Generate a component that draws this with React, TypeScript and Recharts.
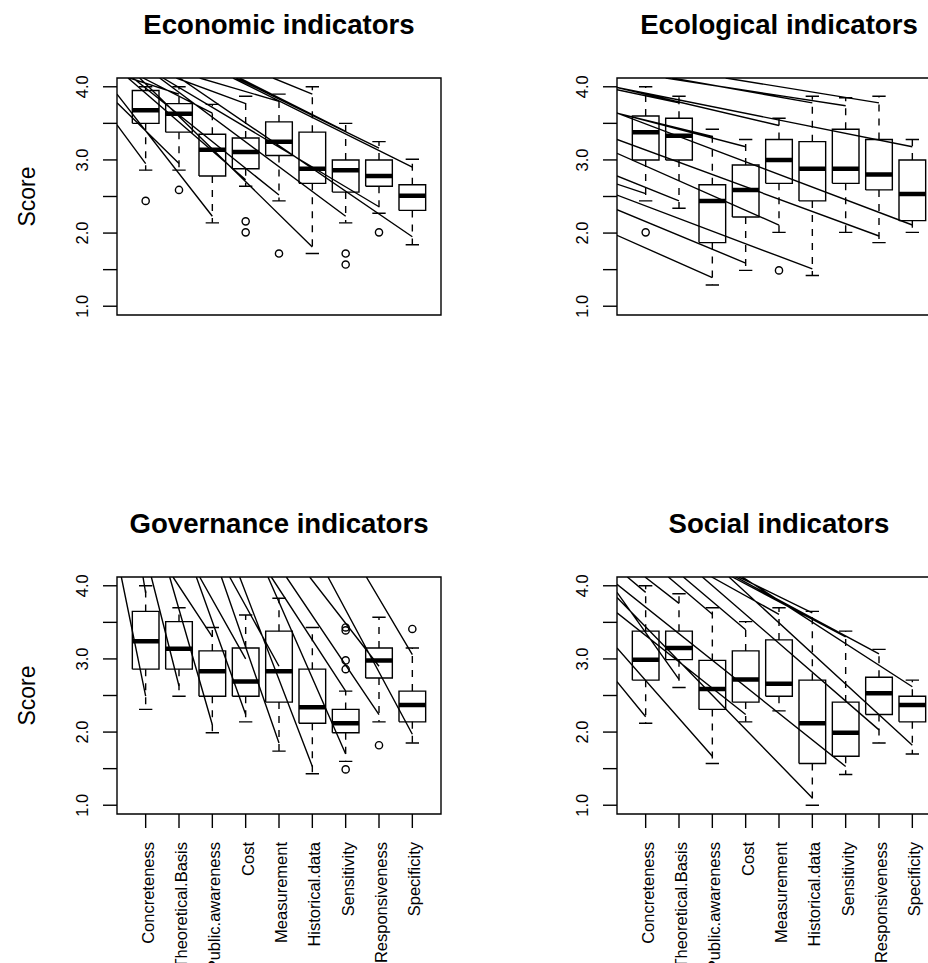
import React from "react";
import { ComposedChart, Line, Scatter, XAxis, YAxis, ReferenceArea } from "recharts";

const categories = [
  "Concreteness",
  "Theoretical.Basis",
  "Public.awareness",
  "Cost",
  "Measurement",
  "Historical.data",
  "Sensitivity",
  "Responsiveness",
  "Specificity",
];
const yTicks = [1, 1.5, 2, 2.5, 3, 3.5, 4];

// Economic
const ecoLow = [2.86, 2.86, 2.14, 2.64, 2.44, 1.72, 2.14, 2.27, 1.84];
const ecoQ1 = [3.5, 3.38, 2.78, 2.88, 3.06, 2.68, 2.56, 2.64, 2.31];
const ecoMed = [3.68, 3.63, 3.14, 3.11, 3.25, 2.88, 2.86, 2.78, 2.51];
const ecoQ3 = [3.95, 3.77, 3.35, 3.3, 3.52, 3.38, 3.0, 3.0, 2.66];
const ecoHigh = [4.0, 4.0, 3.76, 3.87, 3.9, 4.0, 3.5, 3.25, 3.01];
const ecoOut = [[1, 2.44], [2, 2.59], [4, 2.16], [4, 2.01], [5, 1.72], [7, 1.72], [7, 1.57], [8, 2.01]];
const ecoSegs = [
  [0.14, 3.48, 1, 2.95], [0.14, 3.78, 2, 2.95], [0.14, 3.9, 3, 2.23], [0.47, 4.12, 4, 2.73],
  [0.62, 4.12, 5, 2.52], [0.82, 4.12, 6, 1.81], [1.42, 4.12, 7, 2.23], [1.52, 4.12, 8, 2.36],
  [2.02, 4.12, 9, 1.95], [3.62, 4.12, 9, 2.9], [3.82, 4.12, 7, 3.39], [4.82, 4.12, 6, 3.9],
  [2.62, 4.12, 5, 3.8], [1.92, 4.12, 4, 3.77], [0.92, 4.12, 3, 3.64], [0.52, 4.12, 2, 3.9],
  [3.72, 4.12, 8, 3.16],
];

// Ecological
const ecolLow = [2.44, 2.34, 1.29, 1.49, 2.01, 1.42, 2.01, 1.87, 2.01];
const ecolQ1 = [3.0, 3.0, 1.87, 2.22, 2.68, 2.44, 2.68, 2.59, 2.17];
const ecolMed = [3.38, 3.33, 2.44, 2.59, 3.0, 2.88, 2.88, 2.8, 2.535];
const ecolQ3 = [3.6, 3.57, 2.66, 2.93, 3.28, 3.25, 3.42, 3.28, 3.0];
const ecolHigh = [4.0, 3.87, 3.42, 3.28, 3.57, 3.87, 3.85, 3.87, 3.28];
const ecolOut = [[1, 2.01], [5, 1.49]];
const ecolSegs = [
  [0.14, 1.97, 3, 1.39], [0.14, 2.32, 4, 1.59], [0.14, 2.52, 6, 1.51], [0.14, 2.78, 2, 2.44],
  [0.14, 2.67, 1, 2.54], [0.14, 3.09, 5, 2.11], [0.14, 3.28, 8, 1.96], [0.14, 3.64, 9, 2.11],
  [0.14, 3.64, 4, 3.18], [0.14, 3.64, 3, 3.32], [0.14, 3.99, 5, 3.47], [0.14, 3.99, 9, 3.18],
  [0.14, 3.99, 1, 3.9], [0.14, 3.96, 2, 3.78], [1.8, 4.12, 6, 3.78], [1.6, 4.12, 7, 3.74],
  [3.4, 4.12, 8, 3.78],
];

// Governance
const govLow = [2.31, 2.49, 1.99, 2.14, 1.74, 1.43, 1.6, 2.14, 1.85];
const govQ1 = [2.86, 2.86, 2.49, 2.49, 2.41, 2.12, 1.99, 2.74, 2.14];
const govMed = [3.24, 3.14, 2.83, 2.69, 2.83, 2.34, 2.12, 2.98, 2.37];
const govQ3 = [3.65, 3.51, 3.11, 3.15, 3.38, 2.86, 2.31, 3.15, 2.56];
const govHigh = [4.0, 3.7, 3.43, 3.6, 3.83, 3.43, 2.56, 3.57, 3.15];
const govOut = [[7, 3.43], [7, 3.39], [7, 2.98], [7, 2.86], [7, 1.49], [8, 1.82], [9, 3.41]];
const govSegs = [
  [0.27, 4.12, 1, 2.49], [1.17, 4.12, 2, 2.63], [1.72, 4.12, 3, 2.1], [2.52, 4.12, 4, 2.24],
  [3.27, 4.12, 5, 1.85], [3.82, 4.12, 6, 1.53], [4.67, 4.12, 7, 1.7], [4.77, 4.12, 7, 2.56],
  [5.22, 4.12, 8, 2.24], [6.47, 4.12, 9, 1.97], [7.62, 4.12, 9, 3.06], [0.92, 4.12, 1, 3.9],
  [1.82, 4.12, 3, 3.3], [2.62, 4.12, 4, 3.0], [3.52, 4.12, 5, 2.9], [5.92, 4.12, 8, 2.9],
];

// Social
const socLow = [2.12, 2.61, 1.57, 2.14, 2.29, 1.0, 1.42, 1.85, 1.7];
const socQ1 = [2.71, 2.99, 2.31, 2.41, 2.49, 1.57, 1.67, 2.24, 2.14];
const socMed = [2.99, 3.15, 2.59, 2.72, 2.66, 2.12, 1.99, 2.53, 2.37];
const socQ3 = [3.38, 3.38, 2.98, 3.11, 3.26, 2.71, 2.41, 2.75, 2.49];
const socHigh = [4.0, 3.89, 3.7, 3.51, 3.7, 3.65, 3.38, 3.13, 2.71];
const socOut: number[][] = [];
const socSegs = [
  [0.14, 2.69, 1, 2.21], [0.45, 4.12, 1, 3.91], [0.14, 3.15, 3, 1.67], [0.14, 3.63, 4, 2.24],
  [0.14, 3.84, 6, 1.1], [0.14, 4.02, 7, 1.53], [0.14, 3.91, 2, 2.72], [0.98, 4.12, 2, 3.76],
  [1.68, 4.12, 3, 3.61], [2.13, 4.12, 4, 3.4], [2.98, 4.12, 5, 3.61], [3.8, 4.12, 6, 3.63],
  [3.6, 4.12, 7, 3.3], [3.7, 4.12, 8, 3.07], [3.9, 4.12, 9, 2.62], [2.7, 4.12, 8, 2.03],
  [3.5, 4.12, 9, 1.82],
];

const FONT = "'Liberation Sans', Arial, Helvetica, sans-serif";
const XDOM: [number, number] = [0.14, 9.86];
const YDOM: [number, number] = [0.88, 4.12];
const LW = 1.4;

type Stats = {
  low: number[];
  q1: number[];
  med: number[];
  q3: number[];
  high: number[];
  out: number[][];
  segs: number[][];
};

const gap = (x: number) => ({ x, y: null });

const YTick = (p: any) => {
  const v = p.payload.value;
  if (v % 1 !== 0) return <g />;
  const x = p.x - 15;
  return (
    <text x={x} y={p.y} transform={`rotate(-90 ${x} ${p.y})`} textAnchor="middle" fontSize={16.5} fontFamily={FONT} fill="#000">
      {v.toFixed(1)}
    </text>
  );
};

const XTick = (p: any) => {
  const x = p.x + 8;
  const y = p.y + 14;
  return (
    <text x={x} y={y} transform={`rotate(-90 ${x} ${y})`} textAnchor="end" fontSize={16.5} fontFamily={FONT} fill="#000">
      {categories[p.payload.value - 1]}
    </text>
  );
};

function Panel({ s, showX }: { s: Stats; showX: boolean }) {
  const boxes = s.q1.flatMap((q1, i) => {
    const c = i + 1;
    return [
      { x: c - 0.4, y: q1 }, { x: c + 0.4, y: q1 }, { x: c + 0.4, y: s.q3[i] },
      { x: c - 0.4, y: s.q3[i] }, { x: c - 0.4, y: q1 }, gap(c),
    ];
  });
  const medians = s.med.flatMap((m, i) => [{ x: i + 0.6, y: m }, { x: i + 1.4, y: m }, gap(i + 1)]);
  const whiskers = s.q1.flatMap((q1, i) => {
    const c = i + 1;
    return [{ x: c, y: s.q3[i] }, { x: c, y: s.high[i] }, gap(c), { x: c, y: q1 }, { x: c, y: s.low[i] }, gap(c)];
  });
  const staples = s.low.flatMap((lo, i) => {
    const c = i + 1;
    return [
      { x: c - 0.2, y: s.high[i] }, { x: c + 0.2, y: s.high[i] }, gap(c),
      { x: c - 0.2, y: lo }, { x: c + 0.2, y: lo }, gap(c),
    ];
  });
  const outliers = s.out.map(([c, v]) => ({ x: c, y: v }));
  const segs = s.segs.flatMap(([x0, y0, x1, y1]) => [{ x: x0, y: y0 }, { x: x1, y: y1 }, gap(x1)]);

  return (
    <ComposedChart width={500} height={500} margin={{ top: 78, right: 59, bottom: showX ? 0 : 185, left: 0 }}>
      <XAxis
        type="number"
        dataKey="x"
        domain={XDOM}
        allowDataOverflow
        ticks={[1, 2, 3, 4, 5, 6, 7, 8, 9]}
        interval={0}
        hide={!showX}
        height={185}
        axisLine={false}
        tickSize={14}
        tickMargin={0}
        stroke="#000"
        tickLine={{ stroke: "#000", strokeWidth: LW }}
        tick={XTick}
      />
      <YAxis
        type="number"
        dataKey="y"
        domain={YDOM}
        allowDataOverflow
        ticks={yTicks}
        interval={0}
        width={117}
        axisLine={false}
        tickSize={14}
        tickMargin={0}
        stroke="#000"
        tickLine={{ stroke: "#000", strokeWidth: LW }}
        tick={YTick}
      />
      <ReferenceArea x1={XDOM[0]} x2={XDOM[1]} y1={YDOM[0]} y2={YDOM[1]} fill="none" fillOpacity={0} stroke="#000" strokeWidth={LW} />
      <Line data={segs} dataKey="y" stroke="#000" strokeWidth={LW} dot={false} activeDot={false} isAnimationActive={false} />
      <Line data={whiskers} dataKey="y" stroke="#000" strokeWidth={LW} strokeDasharray="7 7" dot={false} activeDot={false} isAnimationActive={false} />
      <Line data={staples} dataKey="y" stroke="#000" strokeWidth={LW} dot={false} activeDot={false} isAnimationActive={false} />
      <Line data={boxes} dataKey="y" stroke="#000" strokeWidth={LW} dot={false} activeDot={false} isAnimationActive={false} />
      <Line data={medians} dataKey="y" stroke="#000" strokeWidth={4.5} strokeLinecap="butt" dot={false} activeDot={false} isAnimationActive={false} />
      <Scatter
        data={outliers}
        dataKey="y"
        isAnimationActive={false}
        shape={(p: any) => <circle cx={p.cx} cy={p.cy} r={3.6} fill="none" stroke="#000" strokeWidth={LW} />}
      />
    </ComposedChart>
  );
}

const panels: { title: string; s: Stats; left: number; top: number; showX: boolean; score: boolean }[] = [
  { title: "Economic indicators", s: { low: ecoLow, q1: ecoQ1, med: ecoMed, q3: ecoQ3, high: ecoHigh, out: ecoOut, segs: ecoSegs }, left: 0, top: 0, showX: false, score: true },
  { title: "Ecological indicators", s: { low: ecolLow, q1: ecolQ1, med: ecolMed, q3: ecolQ3, high: ecolHigh, out: ecolOut, segs: ecolSegs }, left: 500, top: 0, showX: false, score: false },
  { title: "Governance indicators", s: { low: govLow, q1: govQ1, med: govMed, q3: govQ3, high: govHigh, out: govOut, segs: govSegs }, left: 0, top: 499, showX: true, score: true },
  { title: "Social indicators", s: { low: socLow, q1: socQ1, med: socMed, q3: socQ3, high: socHigh, out: socOut, segs: socSegs }, left: 500, top: 499, showX: true, score: false },
];

export default function App() {
  return (
    <div style={{ position: "relative", width: 928, height: 963, overflow: "hidden", background: "#fff" }}>
      <style>{"body{margin:0}"}</style>
      {panels.map((p) => (
        <div key={p.title} style={{ position: "absolute", left: p.left, top: p.top, width: 500, height: 500 }}>
          <Panel s={p.s} showX={p.showX} />
        </div>
      ))}
      <svg width={928} height={963} style={{ position: "absolute", left: 0, top: 0, pointerEvents: "none" }}>
        {panels.map((p) => (
          <g key={p.title}>
            <text x={p.left + 279} y={p.top + 34} textAnchor="middle" fontSize={27.6} fontWeight="bold" fontFamily={FONT} fill="#000">
              {p.title}
            </text>
            {p.score && (
              <text
                x={p.left + 35}
                y={p.top + 196.5}
                transform={`rotate(-90 ${p.left + 35} ${p.top + 196.5})`}
                textAnchor="middle"
                fontSize={23}
                fontFamily={FONT}
                fill="#000"
              >
                Score
              </text>
            )}
          </g>
        ))}
      </svg>
    </div>
  );
}
